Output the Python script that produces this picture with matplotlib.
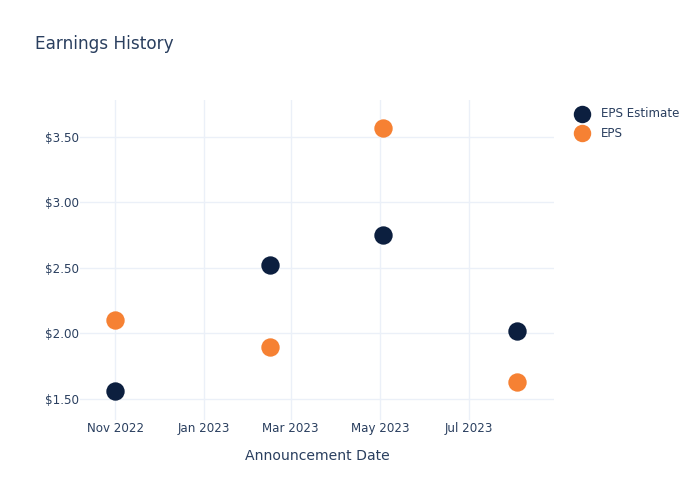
import numpy as np
import pandas as pd
import matplotlib
matplotlib.use("Agg")
import matplotlib.pyplot as plt
import matplotlib.dates as mdates
from matplotlib.ticker import FuncFormatter

# data
dates = pd.to_datetime(["2022-11-01", "2023-02-15", "2023-05-03", "2023-08-03"])
eps_estimate = [1.56, 2.52, 2.75, 2.02]
eps_actual = [2.10, 1.90, 3.57, 1.63]

navy = "#0c1f3f"
orange = "#f68133"
text_col = "#2a3f5f"
grid_col = "#ebf0f8"

plt.rcParams['font.family'] = ['DejaVu Sans']

fig = plt.figure(figsize=(7, 5), dpi=100)
ax = fig.add_axes([80 / 700, 80 / 500, 474 / 700, 320 / 500])

ax.scatter(dates, eps_estimate, s=175, color=navy, label="EPS Estimate", zorder=3, linewidths=0)
ax.scatter(dates, eps_actual, s=175, color=orange, label="EPS", zorder=3, linewidths=0)

ax.set_xlim(pd.Timestamp("2022-10-08"), pd.Timestamp("2023-08-28"))
ax.set_ylim(1.34, 3.78)

ax.xaxis.set_major_locator(mdates.MonthLocator(bymonth=[1, 3, 5, 7, 11]))
ax.xaxis.set_major_formatter(mdates.DateFormatter("%b %Y"))
ax.set_yticks([1.5, 2.0, 2.5, 3.0, 3.5])
ax.yaxis.set_major_formatter(FuncFormatter(lambda v, p: f"${v:.2f}"))

for sp in ax.spines.values():
    sp.set_visible(False)
ax.grid(True, color=grid_col, linewidth=1)
ax.set_axisbelow(True)
ax.tick_params(length=0, colors=text_col, labelsize=8.6)
ax.tick_params(axis='x', pad=1.5)
ax.tick_params(axis='y', pad=1)

ax.set_xlabel("Announcement Date", color=text_col, fontsize=10.1, labelpad=10)
fig.text(35 / 700, 1 - 44 / 500, "Earnings History", color=text_col, fontsize=12.2, va='center')

leg = ax.legend(loc='upper left', bbox_to_anchor=(575 / 700, 1 - 107 / 500),
                bbox_transform=fig.transFigure, frameon=False, fontsize=8.6,
                labelcolor=text_col, handletextpad=1.0, labelspacing=0.55,
                borderaxespad=0, borderpad=0, handlelength=1.2, markerscale=0.95)

fig.savefig("out.png", dpi=100)
